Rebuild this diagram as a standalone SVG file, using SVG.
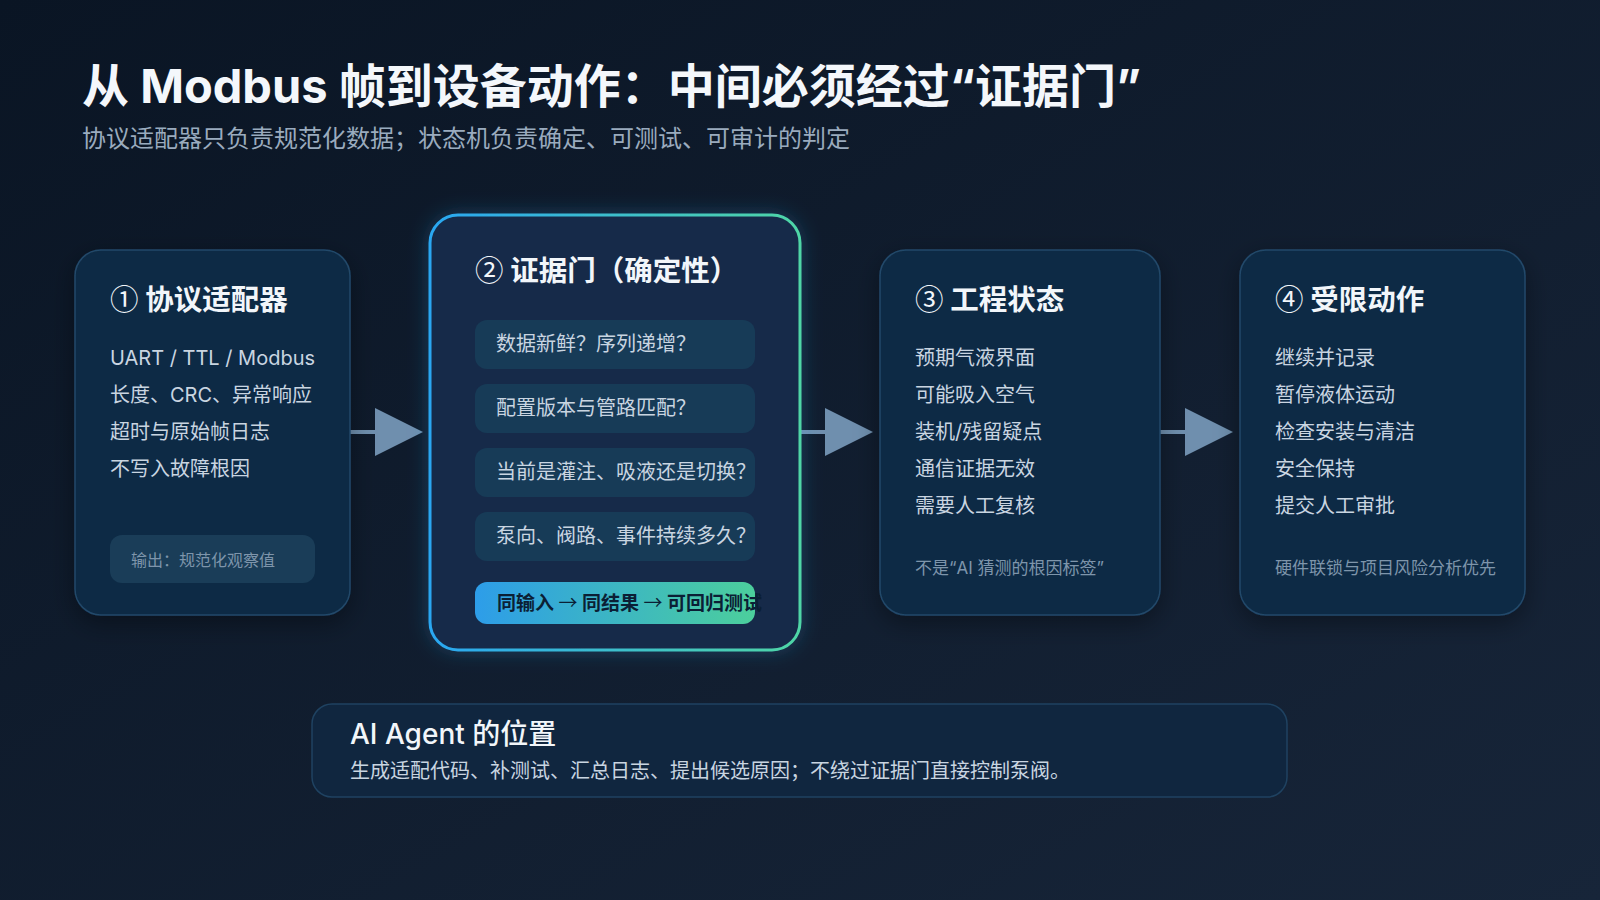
<svg xmlns="http://www.w3.org/2000/svg" width="1600" height="900" viewBox="0 0 1600 900">
<defs>
<linearGradient id="bg" x1="0" y1="0" x2="1" y2="1">
<stop offset="0" stop-color="#0a1524"/>
<stop offset="1" stop-color="#172539"/>
</linearGradient>
<linearGradient id="gateStroke" x1="0" y1="0" x2="1" y2="0">
<stop offset="0" stop-color="#2aa7f2"/>
<stop offset="1" stop-color="#4fd6a6"/>
</linearGradient>
<linearGradient id="pill" x1="0" y1="0" x2="1" y2="0">
<stop offset="0" stop-color="#2d9de9"/>
<stop offset="1" stop-color="#4ccf9c"/>
</linearGradient>
<filter id="shadow" x="-20%" y="-20%" width="140%" height="140%">
<feDropShadow dx="0" dy="8" stdDeviation="12" flood-color="#000" flood-opacity="0.35"/>
</filter>
<filter id="glow" x="-20%" y="-20%" width="140%" height="140%">
<feDropShadow dx="0" dy="0" stdDeviation="10" flood-color="#2aa7f2" flood-opacity="0.25"/>
</filter>
</defs>
<style>
text{font-family:Inter,"Noto Sans CJK SC",sans-serif;}
.cjk{font-family:"Noto Sans CJK SC",sans-serif;font-weight:400;}
.card{fill:#0f2b44;stroke:#21486a;stroke-width:1.5;}
.h{font-size:28.5px;font-weight:700;fill:#f2f6fa;}
.li{font-size:20px;fill:#c9d5e1;}
.note{font-size:17px;fill:#7e95ab;}
.q{fill:#173b57;}
.arrow{fill:#6f8fae;}
.aline{stroke:#6f8fae;stroke-width:4;}
</style>
<rect width="1600" height="900" fill="url(#bg)"/>

<g id="header">
<text x="82" y="103" font-size="47" font-weight="700" fill="#f4f7fb">从 Modbus 帧到设备动作：中间必须经过“证据门”</text>
<text x="82" y="147" font-size="24" fill="#9aabbe">协议适配器只负责规范化数据；状态机负责确定、可测试、可审计的判定</text>
</g>

<g id="connectors">
<line class="aline" x1="350" y1="432" x2="378" y2="432"/>
<polygon class="arrow" points="375,408 423,432 375,456"/>
<line class="aline" x1="801" y1="432" x2="828" y2="432"/>
<polygon class="arrow" points="825,408 873,432 825,456"/>
<line class="aline" x1="1160" y1="432" x2="1188" y2="432"/>
<polygon class="arrow" points="1185,408 1233,432 1185,456"/>
</g>

<g id="node-adapter">
<rect class="card" x="75" y="250" width="275" height="365" rx="26" filter="url(#shadow)"/>
<text class="h" x="110" y="310"><tspan class="cjk">①</tspan> 协议适配器</text>
<text class="li" x="110" y="365">UART / TTL / Modbus</text>
<text class="li" x="110" y="402">长度、CRC、异常响应</text>
<text class="li" x="110" y="439">超时与原始帧日志</text>
<text class="li" x="110" y="476">不写入故障根因</text>
<rect x="110" y="535" width="205" height="48" rx="12" fill="#1a3d58"/>
<text x="131" y="566" font-size="16" fill="#7e95ab">输出：规范化观察值</text>
</g>

<g id="node-gate">
<rect x="430" y="215" width="370" height="435" rx="28" fill="#182c4a" stroke="url(#gateStroke)" stroke-width="3" filter="url(#glow)"/>
<text class="h" x="475" y="281"><tspan class="cjk">②</tspan> 证据门（确定性）</text>
<rect class="q" x="475" y="320" width="280" height="49" rx="12"/>
<text class="li" x="496" y="351">数据新鲜？序列递增？</text>
<rect class="q" x="475" y="384" width="280" height="49" rx="12"/>
<text class="li" x="496" y="415">配置版本与管路匹配？</text>
<rect class="q" x="475" y="448" width="280" height="49" rx="12"/>
<text class="li" x="496" y="479">当前是灌注、吸液还是切换？</text>
<rect class="q" x="475" y="512" width="280" height="49" rx="12"/>
<text class="li" x="496" y="543">泵向、阀路、事件持续多久？</text>
<rect x="475" y="582" width="280" height="42" rx="12" fill="url(#pill)"/>
<text x="497" y="610" font-size="19" font-weight="700" fill="#0b1f35">同输入 <tspan class="cjk">→</tspan> 同结果 <tspan class="cjk">→</tspan> 可回归测试</text>
</g>

<g id="node-state">
<rect class="card" x="880" y="250" width="280" height="365" rx="26" filter="url(#shadow)"/>
<text class="h" x="915" y="310"><tspan class="cjk">③</tspan> 工程状态</text>
<text class="li" x="915" y="365">预期气液界面</text>
<text class="li" x="915" y="402">可能吸入空气</text>
<text class="li" x="915" y="439">装机/残留疑点</text>
<text class="li" x="915" y="476">通信证据无效</text>
<text class="li" x="915" y="513">需要人工复核</text>
<text class="note" x="915" y="574">不是“AI 猜测的根因标签”</text>
</g>

<g id="node-action">
<rect class="card" x="1240" y="250" width="285" height="365" rx="26" filter="url(#shadow)"/>
<text class="h" x="1275" y="310"><tspan class="cjk">④</tspan> 受限动作</text>
<text class="li" x="1275" y="365">继续并记录</text>
<text class="li" x="1275" y="402">暂停液体运动</text>
<text class="li" x="1275" y="439">检查安装与清洁</text>
<text class="li" x="1275" y="476">安全保持</text>
<text class="li" x="1275" y="513">提交人工审批</text>
<text class="note" x="1275" y="574">硬件联锁与项目风险分析优先</text>
</g>

<g id="node-agent">
<rect x="312" y="704" width="975" height="93" rx="20" fill="#10263f" stroke="#1f4261" stroke-width="1.5"/>
<text x="350" y="744" font-size="28" font-weight="500" fill="#f2f6fa">AI Agent 的位置</text>
<text x="350" y="778" font-size="20" fill="#c9d5e1">生成适配代码、补测试、汇总日志、提出候选原因；不绕过证据门直接控制泵阀。</text>
</g>
</svg>
